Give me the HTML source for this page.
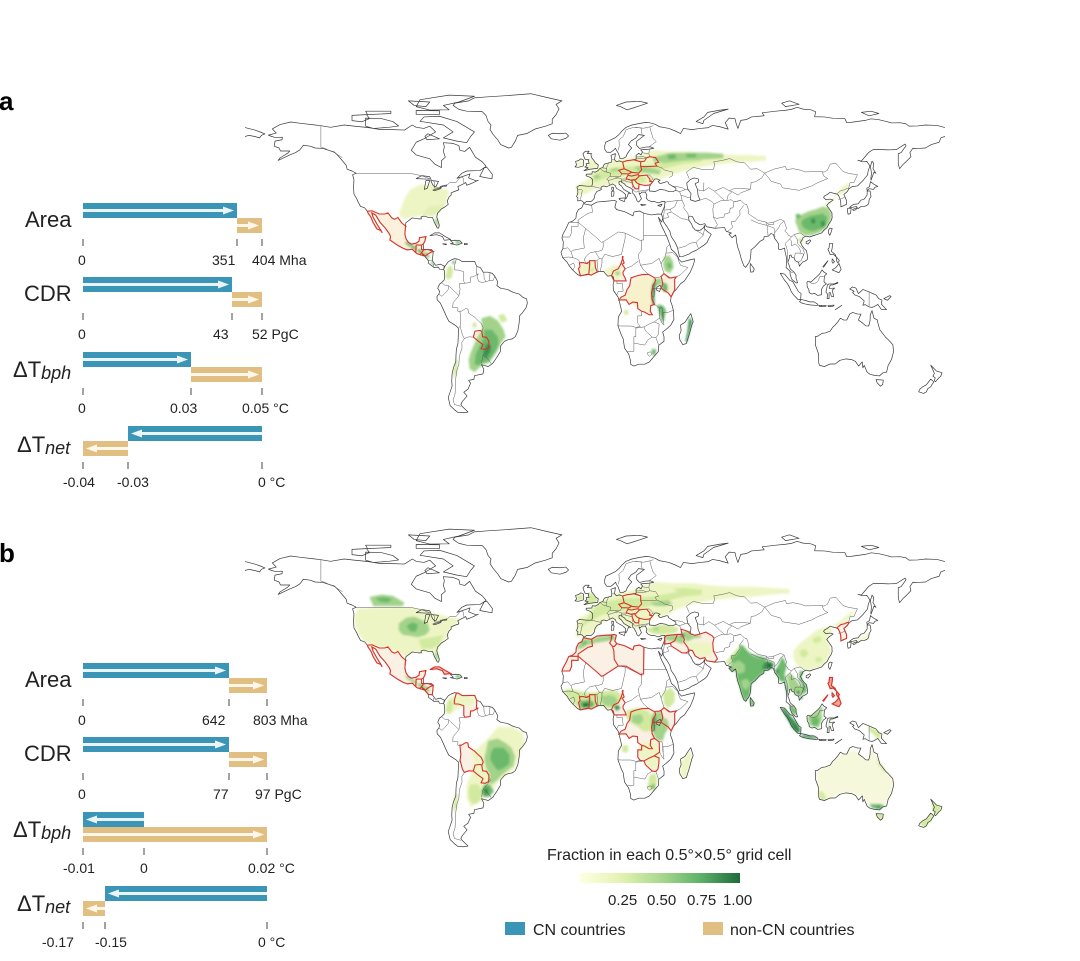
<!DOCTYPE html>
<html><head><meta charset="utf-8"><style>
html,body{margin:0;padding:0;background:#fff;}
svg{display:block;font-family:"Liberation Sans",Arial,sans-serif;}
</style></head><body>
<svg width="1080" height="961" viewBox="0 0 1080 961" xmlns="http://www.w3.org/2000/svg">
<defs>
<linearGradient id="cb" x1="0" x2="1" y1="0" y2="0">
<stop offset="0" stop-color="#ffffe2"/><stop offset="0.25" stop-color="#e4f3b3"/><stop offset="0.5" stop-color="#abd98f"/><stop offset="0.75" stop-color="#5db26a"/><stop offset="1" stop-color="#1d6b3b"/>
</linearGradient>
<filter id="bl" x="-10%" y="-10%" width="120%" height="120%"><feGaussianBlur stdDeviation="0.5"/></filter>
<g id="coast" fill="none" stroke="#3a3a3a" stroke-width="0.7" stroke-linejoin="round">
<path vector-effect="non-scaling-stroke" d="M-168,65.6 -164,66.5 -166,68.3 -162,70.2 -156.5,71.3 -152,70.8 -145,70.1 -141,69.7 -136,69 -129,70 -124,69.5 -117,68.9 -110,68 -104,68 -98,67.8 -94,70 -92,69 -88,68.5 -85,69.5 -82,67 -86,65 -88,64 -92,62.5 -94.5,59 -92,57 -88,56 -85,55.3 -82.3,52.9 -79,51.5 -79,54.5 -77,56 -78,58.5 -77.5,60.5 -78,62.3 -73,62 -70,61 -69.5,59 -67,58.5 -64.5,60.3 -61.5,56 -58,54 -56,52 -59,50.3 -60,50.2 -66,50 -68.5,49 -71,46.8 -65,48.5 -64.3,48.8 -65,47 -61,45.7 -60,46 -63.5,44.6 -66,43.8 -66.5,45 -67,44.7 -70.6,43.2 -70,41.8 -72,41.2 -74,40.5 -74,39.5 -75,38.8 -76,37 -75.5,35.5 -77,34.5 -79,33.5 -81,31.7 -81.4,30 -80.1,26.5 -80.4,25.2 -81.1,25.2 -82.7,27.8 -83.6,29.8 -85.3,29.7 -88,30.4 -89.5,30 -89.3,29.2 -91,29.2 -94,29.6 -97.3,27.5 -97.5,25.5 -97.8,22.5 -97.2,20.5 -96,19 -94.5,18.2 -92,18.6 -90.5,19.5 -90.3,21 -87,21.5 -87.5,19.5 -88.3,18.2 -88.2,16 -86,15.9 -84,15.8 -83.2,15 -83.5,12.5 -83.7,11 -82,9 -79.5,9.5 -77.5,8.6 -77.9,7.2 -80,7.3 -80.5,8.2 -82.9,8.1 -85.7,9.9 -85.8,11.1 -87.6,13 -89.8,13.5 -91.5,14 -92.2,14.5 -94,16 -96.5,15.7 -98.5,16.3 -101.5,17.7 -105.5,20 -105.2,21.5 -105.8,22.7 -108,25.3 -110.5,27.6 -112.8,30.8 -114.8,31.8 -114.2,30 -112.2,27 -110,24 -109.5,23.2 -110.3,24.2 -112.2,24.8 -114.2,27.7 -115.2,29.8 -116.8,31.8 -117.2,32.6 -118.5,34 -120.6,34.6 -121.9,36.6 -122.5,37.8 -124,40 -124.2,43 -124,46.2 -124.7,48.4 -122.8,49 -125,50 -127.5,50.8 -128,52.5 -130,54.5 -132,56.5 -134,58.2 -137,59 -140,59.8 -144,60 -146.5,60.8 -150,61.2 -151.8,59.2 -154,58 -157,57 -160,55.8 -163,54.6 -162,55.7 -158,57.8 -157,58.7 -161.8,58.7 -162.5,60 -165,60.8 -164.6,63 -161,63.6 -160.8,64.7 -164.5,64.6 -166.3,65 -168,65.6Z
M-73,78.5 -70,76.8 -66,76 -58,75.8 -56,74 -55,71.5 -53.5,70 -54,68 -52.5,66 -50,63.5 -48.5,61.5 -44.5,60 -43,60.3 -41,63 -39.8,65.5 -35,66.3 -31,68.2 -25.5,69.5 -22,70.5 -22,72.5 -20,74.5 -18.5,77 -20,79 -17,80.5 -25,82 -33,83.6 -45,82.8 -56,82.2 -62,81.8 -65,80.5 -72,79.5Z
M-80,73.8 -71,71.5 -67,69.5 -62,67 -64,65 -66,62.3 -71,63 -78,64.4 -73,67 -78,70 -90,71.6 -88,73.5Z
M-118,73 -110,72.8 -104,71.5 -101,69.6 -106,69 -114,68.5 -118,69.5 -118,71.2Z
M-125,74.2 -117.5,74.5 -116,72.8 -120,71.4 -125,71.9Z
M-92,78 -90,81 -75,83 -62,82.5 -70,80 -78,78.5 -75,76.6 -85,76.5Z
M-92,76.3 -80,76.2 -80,74.6 -92,74.6Z
M-118,76 -105,76 -105,75 -117,74.5Z
M-96,80.5 -85,80 -87,78 -93,78.5Z
M-86,66.2 -80,64 -86.5,63.6 -87.5,65Z
M-59.3,47.6 -53,46.6 -52.8,48.5 -55.5,51.5 -57,51.4Z
M-84.9,21.9 -82.5,23.1 -80,23.1 -77.2,21.6 -74.2,20.2 -77.5,19.9 -78.5,21.5 -81.5,22.3Z
M-74.4,19.8 -72,19.9 -69.5,19.7 -68.3,18.6 -71,17.8 -74.4,18.4 -72.8,18.6Z
M-78.3,18.4 -76.3,18.2 -76.7,17.9 -78.3,18.3Z
M-67.2,18.5 -65.6,18.4 -65.8,18 -67.2,18Z
M-92,46.7 -89,48 -85,47.5 -84.5,46.5 -87,46.5Z M-87.8,42 -87,45.8 -85,45.8 -86.3,42.5Z M-84.5,45.9 -80.5,45.5 -81.7,43.4 -82.4,43 -83.5,44Z M-83.4,41.7 -79,42.8 -79.5,42.3 -82.5,41.4Z M-79.7,43.3 -76.2,43.9 -76.4,43.4Z
M-77.2,8.6 -75.5,10.5 -74,11.3 -72.2,11.9 -70.2,11.6 -68.3,10.6 -66,10.6 -64,10.7 -61.9,10.7 -60.8,8.5 -59,8 -57.5,6 -55,6 -52.8,5.5 -51.5,4.2 -50,1.8 -50.5,0.2 -48.5,-1 -45,-1.5 -42,-2.8 -39,-3.5 -37,-5 -35.2,-5.5 -34.8,-7.5 -35.5,-9.5 -37.2,-11.5 -38.8,-13 -39,-16 -39.7,-19.5 -41,-22 -42.5,-23 -44.5,-23.3 -46.5,-24 -48.5,-26 -48.7,-28.5 -50.5,-31 -52.5,-33.5 -53.5,-34.2 -54.9,-35 -56.8,-34.6 -58.4,-34.2 -57.2,-36.2 -57.6,-38.2 -62,-39 -62.3,-40.6 -65,-41 -64,-42.3 -65.3,-44.8 -67.5,-46.2 -65.8,-47.8 -68.3,-50.3 -69,-51.5 -68.4,-52.3 -65.3,-54.8 -67.5,-55.1 -70.5,-55 -72,-54 -74.5,-52 -75.5,-48.5 -74.5,-46 -73.5,-43.5 -73.7,-41.5 -73.5,-38 -72.8,-35.5 -71.6,-33 -71.5,-30 -71.3,-27.5 -70.5,-25 -70.3,-21 -70.3,-18.4 -71.5,-17.3 -75.2,-15.3 -76.3,-13.5 -77.6,-11 -79.5,-7.5 -81.2,-6 -81.3,-4.5 -80.3,-3.5 -79.9,-2.3 -80.9,-1 -80,0.8 -78.9,1.5 -77.6,2.6 -77.3,4 -77.4,6.5 -77.9,7.2Z
M-5.9,35.8 -2,35.1 1,36.5 5,36.8 10,37.2 11,36.8 10.2,34.3 11.2,33.2 15.2,32.3 19.5,30.5 20.1,32.2 23,32.6 25.2,31.6 29,30.9 32.3,31.3 34.2,31.2 34.9,29.5 34.3,27.8 32.6,29.9 33.9,26.7 35.5,24 37.2,21 38.5,18 39.3,15.9 41.2,14.5 42.8,12.5 43.2,11.5 44.6,10.4 48,11.2 51.2,11.8 51,10.4 50.5,9 49,6 47.8,4.5 46,2.2 44,1 41.6,-1.7 40.2,-2.8 39.2,-4.7 38.8,-6.5 39.5,-8 40.3,-10.5 40.6,-14.5 39,-17 36.5,-18.9 34.8,-20 35.5,-22.1 35.5,-24 32.8,-25.8 32.6,-28.5 31,-30 28,-33 25.6,-34 22.5,-34 20,-34.8 18.4,-34.1 18.3,-32.5 17.3,-29.5 16.5,-28.6 15.2,-27 14.5,-23 13.4,-21 11.8,-17.3 12,-13.5 13.7,-11 13.2,-9 12.3,-6.1 12,-5 9.5,-2 9.3,0.5 9.8,2.5 9.5,3.9 8.5,4.5 6.5,4.3 5.5,5.2 4.5,6.3 2,6.3 0,5.6 -2,4.7 -4,5.2 -7.5,4.4 -9,5 -11.4,6.9 -13.2,8.7 -14.5,10.5 -16.7,12.4 -17.5,14.7 -16.5,16.2 -16.3,19.2 -17,21 -16.5,22.5 -14.9,25 -13.5,27.6 -11.5,28.2 -9.8,29.5 -9.6,31.5 -8.5,33.3 -6.8,34Z
M49.3,-12 50.5,-15.5 49.8,-17 48.5,-21 47,-25 45.2,-25.5 43.7,-23.5 43.3,-21.5 44.3,-19.5 44,-17 46.3,-15.8 48,-13.5Z
M31.8,-0.5 33.5,0.3 34,-0.5 33.2,-2.4 31.7,-1.8Z
M-5.6,36 -6.4,36.8 -7.4,37.2 -8.9,37 -8.8,38.4 -9.5,38.8 -8.8,40.5 -8.9,42 -9.3,43 -8,43.7 -4,43.4 -1.7,43.4 -1.2,44.7 -1.2,46.2 -2.3,47.2 -4.6,47.9 -4.5,48.6 -1.6,48.7 -1.4,49.7 0.1,49.5 1.6,50.2 2.5,51.1 4,51.5 4.8,53 7,53.5 8.6,53.9 8.6,55.5 8.2,56.8 10.5,57.6 10.3,56.3 10,55 11,54 12.5,54.4 14.2,53.9 16.5,54.5 18.6,54.7 19.9,54.9 21.2,55.2 21.1,56.8 22.5,57.7 23.7,57 24.4,58.3 23.5,59.2 28,59.5 30.2,59.9 28.5,60.5 26,60.4 22.9,59.8 21.4,61.2 21.5,63 24.5,64.9 25.4,65.5 22.3,65.8 21,64.3 18.5,63 17.2,61.5 18.9,60 18,59.2 16.6,57.5 15.9,56.1 14.3,55.4 12.9,55.4 12.6,56.3 11.8,58 11,59 10.6,59.9 9.5,59 8,58.1 6,58.2 5,59.5 5,61 5.5,62.5 8,63.5 10.5,64.5 12.5,66 14,67.5 16,69 19,70 23,70.7 26,71.1 28,71 31,70.3 33,69.3 38,68.5 41,67.5 44,66.3 45.5,68.5 50,68 54,68.5 58,68.8 60.5,69.8 64,69.3 68.5,68.2 67,71 69,73 72,72.8 72.5,71 73.5,68.5 75,72 78,72.4 80.5,73.5 87,74 86,75.3 93,76 98,76.4 101,76.8 104,77.7 107,76.9 111,76.6 113.5,75.8 113,73.6 118,73.5 122.5,72.9 128.5,72.8 129.5,71 132,71.2 139,72 142,72.7 146,72.3 150,71.5 152.5,70.9 157,71 160,70.5 161.5,69.5 166,69.6 170,70 176,69.8 180,68.9 M180,65 178,64.5 177,62.5 173,61.5 170,60 166,59.8 163.5,59.9 162,58 162.5,56.2 160,54 158.5,52.9 156.7,51 156,53 156,57.5 157.5,58 160,61 159.5,61.7 155,59.3 151,59.2 148,59.3 143,59.3 140.7,58 137,54.3 135.2,54.7 137.5,54 139.8,54.2 141.4,52.2 140.5,50 140.2,48.3 138,46 135,43.5 132.3,43.2 130.7,42.3 129.7,41 128,39.8 129.4,37.2 129.4,35.5 126.5,34.4 126.4,36.7 126.1,37.7 125.2,39.5 124.3,40 122,40.5 121,40.8 119.5,39.8 118,39.1 117.6,38.5 118.8,37.5 120.8,37.8 122.5,37.4 120.2,36 119.2,35 120.5,33.5 121.9,31.7 121.9,30.9 122,29.8 121.5,28.5 120.2,26.8 119.4,25.4 118.1,24.5 116.5,23 114,22.3 112,21.8 110.4,21.3 108.5,21.7 107,21 106.5,20 105.7,19 106.5,17.5 107.7,16.2 108.8,15.3 109.3,13 109.2,11.5 108,10.8 106.8,10.4 105.1,8.6 104.8,10.2 104.4,10.4 103,11 102.5,12.1 101,12.7 100.9,13.5 100,13.3 100,12.2 99.2,10.4 99.8,9.2 100.4,7.5 101.3,6.8 102.2,6.2 103.4,4.8 103.4,3.5 104.2,1.4 103.5,1.3 101.3,2.9 100.4,4.9 100.3,6.5 98.3,8 98.5,10 98.6,12 97.8,14.8 97.5,16.5 95.4,15.8 94.3,16.1 94.5,18.2 93.5,19.5 92.4,20.7 91.8,22.4 90.5,22.8 89.2,21.7 87,21.5 86.8,20.3 85,19.5 82.2,17 80.3,15.7 80.1,13.3 79.8,11.5 79.3,10.3 77.5,8.1 76.5,8.9 75.3,11.6 74.4,14.5 73.4,16.9 72.8,19.2 72.6,21.3 72.3,22.2 70.5,21 68.9,22.5 70.2,23 67.5,23.8 66.6,25.4 64.5,25.3 61.5,25.1 58.5,25.6 57.3,25.8 56.5,27.1 54,26.6 51.5,27.9 50.1,30.2 48.8,30.4 48,29.9 48.4,28.5 49.7,26.9 50.2,25.7 51.6,24.3 54,24.2 55.8,25.3 56.4,26.3 56.4,24.9 57.8,23.7 59.8,22.5 58.5,20.5 57.7,19 56.5,18 55.2,17.3 52.2,15.6 49.5,14.6 48.7,14 45,12.8 43.5,12.7 42.7,15.5 42.5,16.5 41.2,19 39.2,21.5 38.5,23.8 37.2,25.6 35.2,28 34.9,29.5 34.2,31.3 34.9,32.8 35.5,34 35.9,35.5 36,36.8 34.7,36.8 32.5,36.1 30.6,36.7 29,36.7 27.3,37.3 26.3,38.3 26.7,39.5 26.2,40.3 26,40.8 24,40.8 23.5,40.2 22.6,40.5 23.9,38 22.5,36.5 21.7,36.9 21.1,38.3 20.2,39.7 19.4,40.4 19.4,41.8 18.5,42.5 16,43.5 15,44.5 13.7,45.1 13.5,45.7 12.3,45.3 12.4,44.2 13.6,43.5 14.8,42 16,41.4 18.5,40.2 17.2,40.4 16.6,38.9 16,38 15.6,38.2 15.8,39.7 14.7,40.6 13.5,41.3 12.2,41.9 11,42.5 10.5,43.6 9,44.4 7.5,43.8 6,43.1 4.5,43.5 3.1,43 3.2,41.9 1,41.1 0,39.8 -0.3,38.4 -0.8,37.6 -2.1,36.7 -4.4,36.7 -5.6,36
M-180,68.9 -175,67.8 -172,66.9 -169.8,66.1 -171.6,65.5 -172.5,64.4 -175,65 -178,65.5 -180,65
M28,41.3 31,41.1 33.5,42 36,41.7 38,41 40,41 41.6,41.6 41.6,42.6 39.9,43.4 38,44.4 37.5,45.3 36.5,45.3 35.5,45 33.5,44.5 32.5,45.4 33.5,46 31.7,46.6 30.7,46.5 29.7,45.3 28.7,44.3 28,43Z
M47.2,44.8 49.2,46.4 51.2,47 53.2,46.5 53.2,45.2 51.5,44.5 52.7,42 53,39.5 54,37.4 51.5,36.8 49,37.5 49.4,40.2 47.8,42 47.4,43.5Z
M-5.7,50.1 -3,50.7 1.4,51.2 1.7,52.7 0.2,53.5 -0.5,54.5 -1.6,55.6 -2.1,57 -1.8,57.6 -4,57.6 -3,58.6 -5,58.6 -6.2,57.5 -5.6,56 -5,55 -3.1,54.9 -3.5,54.4 -3,53.3 -4.6,53.2 -4.2,52.3 -5.2,51.7 -3.5,51.4Z
M-6,52.2 -6,53.9 -5.8,54.7 -7.3,55.3 -8.5,54.5 -10,54.2 -9.5,52.6 -10.3,51.8 -8.5,51.6Z
M-22.5,64 -24,65.5 -22,66.4 -18,66.2 -15,66.5 -13.6,65.2 -14.8,64.3 -18,63.4Z
M11,78.5 16,80 23,80.3 27,79.5 20,77.5 16.5,76.6 13,78Z
M52,71.5 56,73.5 58,75.5 64,76.4 68.5,76.9 61,75 56,72 55.5,70.6Z
M96,79.5 100,80.5 105,79 98,78Z M137,75.5 142,76 146,75 141,74Z
M142,46 143.5,49.5 144.5,49 143,51 143.4,53.3 142.5,54.3 141.7,52 142.2,49 141.9,46.6Z
M130.9,34 131.5,34.6 133,35.5 135.3,35.7 136.8,37.3 138.5,37.8 140,39.6 140,41.3 141.5,41.3 142,39 141,37.5 140.8,35.8 139.8,35 138.5,34.6 137,34.6 135.2,33.6 134.5,34.6 132.5,34.2Z
M140,41.5 139.8,42.5 141.2,43.2 141.7,45.4 143.5,44.2 145.5,43.3 144,42.9 143.3,42 141,42.3Z
M130,33.8 131.8,33.8 131.4,31.5 130.2,31.2 129.8,32.7Z M132.5,33.3 134.7,34 134.2,33.2 133,32.8Z
M121,25.2 122,25 121.5,23.5 120.8,22 120.1,23 120.2,24.5Z
M108.6,19.2 110.5,20.1 111,19.6 109.6,18.2 108.6,18.5Z
M79.9,9.8 81,8.5 81.9,7.4 81.5,6.2 80.1,6 79.8,7.8Z
M120.6,18.5 122.2,18.5 122,16.5 121.6,15 123.5,13.8 124.1,12.6 122.5,13.9 121,13.6 120.6,14.5 119.8,16 120.4,16.5Z
M122,7 123.6,7.8 124.8,8.9 125.5,9.8 126.6,7.2 125.5,5.8 124.2,6.2Z
M124.3,12.5 125.7,11.1 125,10 124.3,10.9Z M122,11.8 123.2,10.6 122.4,9.9 121.9,10.6Z M117.2,8.4 119.8,11 119.5,10.5 117.6,8.2Z
M109,1.6 109.6,2.1 111,1.7 113,3.2 115.3,5 116.8,7 117.7,6.1 119.2,5.3 118,4.3 117.8,1.8 119,0.9 117.5,0 116.5,-1.5 116.5,-3.8 114.5,-4.1 113,-3.2 111.6,-3.5 110.2,-2.9 110,-1.5 109.2,-0.5Z
M95.3,5.5 97.5,5.2 100.4,2.3 101.7,2 103.7,-1 104.7,-2.5 106,-3.2 105.8,-5.8 104.5,-5.9 102.3,-4 101,-2.5 100,-0.5 99,1 97.5,2.5Z
M105.2,-6.8 106.1,-5.9 108.3,-6.3 110.5,-6.9 112.6,-6.9 114.4,-7.8 114.4,-8.5 110.5,-8.2 108,-7.8 106.4,-7.4Z
M115,-8.3 116.5,-8.8 115.5,-8.9Z M116.3,-8.4 119,-8.6 118.5,-9 116.5,-8.9Z M119.8,-8.5 123,-8.3 122.5,-8.8 120,-8.9Z M123.6,-10.3 127,-8.4 125,-9.5Z
M119.4,-5.5 119.6,-3.5 118.8,-2.7 119.6,0.5 120.3,0.9 123,0.9 124.8,1.6 125,1.3 122.5,0.5 121,0.4 120.5,-1 121.6,-1 123.3,-0.9 122,-1.8 122.8,-4.6 121.6,-4.5 121,-2.8 120.4,-3 120.4,-5.5Z
M131,-1.3 132.5,-0.4 134.2,-0.9 135.5,-3.3 137.8,-1.5 141,-2.6 144.5,-3.9 146,-5.5 147.6,-6.1 147.3,-7.9 150,-10.3 147.2,-10.1 145.5,-8 143.5,-9 142.5,-9.3 141,-9.1 139,-8.1 137.8,-8.4 138.5,-6.5 136,-4.6 133.6,-3.9 132.5,-2.8 133.3,-2.3Z
M148.5,-5.5 151.5,-4.2 152.3,-4.5 150.5,-6.2Z
M113.3,-22 113.5,-26 115,-29.5 115.1,-33.5 115.5,-34.5 118,-35 121,-33.9 123.6,-33.9 126,-32.3 129,-31.7 132,-32 134,-32.8 135.6,-34.8 137.5,-33 137.8,-35.6 138.5,-34.5 140,-37.5 141.5,-38.4 143.5,-38.8 146.3,-39.1 148,-37.8 150,-37.4 150.8,-34.5 152.5,-32 153.6,-28.5 153.2,-25.5 151,-23.5 149.5,-22.3 146.5,-19 145.5,-16 145.3,-14.8 143.5,-14 142.5,-10.7 141.6,-12.5 141.5,-15 140.8,-17.4 139.2,-17.3 137.5,-16 135.5,-14.8 136.8,-12.2 135,-12.2 132.6,-11.5 131,-12.2 129.5,-14.8 128,-14.8 126.2,-14 125,-15.5 123.5,-17 122.2,-18 121,-19.6 118.5,-20.4 116.7,-20.6 114.7,-21.8Z
M144.6,-40.7 148.3,-40.9 148,-42.8 146.9,-43.6 145.2,-42.2Z
M172.7,-34.4 174.5,-36 175.7,-37 178.5,-37.7 177.9,-39.2 176.8,-40 175.2,-41.6 174.6,-41.2 175,-39.9 173.8,-39.2 174.6,-38 173.2,-35.3Z
M172.7,-40.5 174.3,-41.7 173.2,-43 172.7,-43.8 171.2,-44.6 170.5,-46 169,-46.7 166.5,-46 167,-45 168.3,-44 170.5,-42.9 171.5,-41.8Z
M12.4,38.1 15.6,38.3 15.1,36.7 12.5,37.6Z M8.4,41 9.8,41 9.6,39.1 8.4,39Z M8.6,43 9.5,42.9 9.4,41.4 8.7,41.7Z M23.5,35.5 26.3,35.3 24,35Z M32.3,35 34.5,35.6 33.8,34.6Z"/>
<path vector-effect="non-scaling-stroke" stroke="#5a5a5a" stroke-width="0.5" d="M-123,49 -95,49 -89.5,48 -84.5,46.5 -82.4,45 -82.5,42.5 -79,43 -76,44 -74.7,45 -71.5,45 -70,46.5 -69,47.4 -67.8,47 -67.8,45.2 -67,44.7
M-141,69.7 -141,60.3 -139,59.9 -137,59 -134,58 -130,55.8
M-117.1,32.5 -114.7,32.7 -111,31.3 -108.2,31.3 -106.5,31.8 -104.5,29.6 -103,29 -101.4,29.8 -99.5,27.5 -97.2,25.9
M-92.2,14.5 -92,17.8 -89.2,17.8 -88.3,18.5 M-89.2,17.8 -89.2,15.9 -88.2,15.7 M-88.2,15.7 -89.3,14.4 -90.1,13.7 M-89.3,14.4 -87.8,13.4 M-87.3,12.9 -86,13.9 -84.5,14.6 -83.2,15 M-85.7,11.1 -83.7,10.9 M-83,8.3 -82.9,9.6
M-71.3,11.8 -72.4,8.5 -72.3,7 -70,6.9 -67.5,6.2 -67.5,2 -66.9,1.2 -64.2,1.5 -64,3.9 -62.7,4 -60,5.2 -61,5.2 -60.8,8.5
M-60,5.2 -60.7,4 -59.8,2 -58,1.5 -56,1.9 -54.5,2.3 -52.5,2.3 -51.5,4.2 M-57.2,5.9 -57,3 -56,1.9 M-54,5.7 -54.3,3 -54.5,2.3
M-66.9,1.2 -69.9,1 -69.4,-1.2 -70,-4.2 M-78.9,1.5 -77.4,0.4 -75.3,0.1 -70,-4.2 M-80.3,-3.5 -78.7,-4.5 -77,-3 -75.5,-1.5 -75.3,0.1
M-70,-4.2 -73,-7.3 -73.2,-9.4 -70.5,-9.5 -70.6,-11 -69.5,-10.9
M-69.5,-10.9 -68.8,-11 -66.5,-9.8 -65.4,-10 -65,-11.8 -62,-13.5 -60.2,-15 -58.5,-16.3 -57.5,-18.2 -58.2,-19.8
M-69.5,-10.9 -69,-15 -69.4,-17.5 -70.3,-18.4 M-69.4,-17.5 -68.2,-21.3 -67.2,-22.8 M-67.2,-22.8 -65,-22.1 -62.6,-22.2
M-62.6,-22.2 -61.7,-19.6 -59,-19.3 -58.2,-19.8 -57.8,-22.1 -55.8,-22.3 -54.6,-24 -54.6,-25.5 -54.8,-26.8 -56.5,-27.5 -58.6,-27.3 -57.6,-25.5 -60,-24 -62.6,-22.2
M-54.6,-25.5 -53.7,-26.2 -57.6,-30.2 -56,-30.8 -53.4,-33.7 M-57.6,-30.2 -58.4,-33.5
M-67.2,-22.8 -68.5,-24.5 -68.4,-27 -69.8,-30.5 -70,-34 -71,-36.5 -71.6,-40 -71.8,-44 -72,-47 -73,-49.5 -72.3,-51.5 -69,-52.3
M-1.7,35.1 -1.3,32.1 -3.6,31.6 -8.7,28.7 -8.7,27.7 -13.2,27.7 M-8.7,27.7 -8.7,25.9 -12,26 -12,23.4 -13,21.3 -17,21.3
M-8.7,27.7 -4.8,25 1.2,20.7 3.3,19 4.2,19.2 12,23.5 M-4.8,25 -6,21 -5.5,16.5 -11.5,15.5 -12.2,14.7 -14,16.6 -16.5,16.2
M-12.2,14.7 -11.4,12.4 -13.7,12.6 -16.7,12.4 M-11.4,12.4 -8.5,11.4 -7.9,10.2 M-13.2,9 -11,10 -10.3,8.5 -11.4,6.9 M-8.5,7.6 -7.5,4.4
M-7.5,4.4 -8.5,7.6 -7.7,8.4 -8,10.1 -6,10.2 -4.7,9.8 -2.7,9.5 -3.2,5.1
M-4.7,9.8 -5.5,11.5 -4.5,13 -2.5,14.5 0.2,14.9 1.2,13.4 2.3,12 1,11 0,11 -2.8,11 -2.7,9.5 M0,11 0.2,8 1.2,6.1 M1,11 1.6,6.2 M2.3,12 3.6,11.7 3.6,10 2.7,6.4
M4.2,19.2 4.2,16.9 3.6,15.5 1.2,15 0.2,14.9 M3.6,11.7 5,13.8 9,12.8 13.6,13.7 M12,23.5 15.5,23 15.5,20.7 13.6,13.7
M8.5,4.5 9.5,6.5 12,7.5 13.5,10 14.5,12.5 14,13 M14,13 15,10 14,9.5 15.5,7.5 18.5,8.5 22.4,10.9 M15.5,23 24,19.5 M24,19.5 24,15.7 22.5,14 22.4,12.5 23.4,9
M25,31.6 25,22 36.9,22 M25,22 25,20 24,20 24,19.5
M23.4,9 26.5,9.5 29,9.7 33,12 34,9.5 M36.5,14.3 36,12.5 34.5,10.5 34,9.5 M36.5,14.3 37,17 38.5,18 M36.5,14.3 40,14.5 42.5,12.5
M42.5,12.5 43,11 44,9 47.8,8 44,4.9 41.9,4 39,3.5 35.5,5.4 34.9,6.9 34,9.5 M27.5,5.1 25,7 23.4,9
M9.8,2.2 11.3,2.2 16,2.2 15.5,3.5 14.5,5 14.4,6 15.5,7.5 M11.3,2.2 11.3,1 14,1.3 14.5,-2.3 12,-2.3 11.2,-3.9
M41,-1.7 41,3 41.9,4 M34,4.2 34.9,1 34,-1 37.6,-3 39.2,-4.7 M30,-1 34,-1 M34,4.2 33,3.8 31.3,3.8 30.8,3.5
M29,-1.4 30.5,-1 30.8,-2.4 30.5,-4.5 29.2,-4.5 M40.4,-10.5 37.5,-11.5 35,-11.5 M33,-9.5 34.5,-9.5 35,-14 35.5,-17 34.8,-16.5 33.2,-14 M30.6,-8 33,-9.5
M12.3,-6.1 13.5,-4.8 15.5,-4 16.5,-1.5 17.8,0 18.5,3.5 21,4.3 24,4.9 27.5,5.1 30.8,3.5 31.2,2.3 29.7,0 29.6,-1.4 29.1,-2.8 29.2,-4.5 29.4,-6 30.6,-8 28.7,-8.5 28.4,-11 29.5,-12.5 27.8,-12.5 25.4,-11.3 24,-11 22,-9.8 21.8,-7.2 19.5,-7 17.5,-8 16,-6 12.3,-6.1
M11.8,-17.3 13.5,-17.4 18.5,-17.4 21,-18 23.3,-17.6 M24,-11 24,-13 22,-13 22,-16.2 23.3,-17.6
M16.5,-28.6 20,-28.4 20,-24.8 20,-22 21,-22 21,-18.3 M21,-18.3 25.2,-17.8 M20,-24.8 23,-25.3 25.6,-25.7 27,-23.6 29.4,-22.2
M25.2,-17.8 28,-16.5 30.4,-15.6 33,-16.5 32.8,-19 32.4,-21.3 31.3,-22.4 29.4,-22.2 26,-19.5 25.2,-17.8 M30.4,-15.6 33.2,-14 33,-9.5 M31.3,-22.4 32,-24 32.8,-25.8
M27,-29 28.5,-28.6 29.4,-29.5 28,-30.6 27,-29.7Z M35,-11.5 35,-14
M-1.7,43.4 3.1,42.4 M-8.9,42 -7,42 -6.5,41.6 -7,39.6 -7.5,37.5
M2.5,51.1 4.2,50 6,49.5 8.2,49 7.6,47.6 6,46.3 7,45.9 7,45.5 7.5,43.8 M4,51.3 6,51.2 M7,53.5 6.1,51.8 6,50.7 6.1,49.5 M8.6,54.9 10,54.8
M14.2,53.9 14.6,52.5 15,51 12.2,50.3 13.8,48.8 13,47.5 10,47.5 7.6,47.6
M19.9,54.9 23.5,54 23.5,52 24,50.5 22.5,49.1 19,49.4 17,50.2 15,51
M12.2,50.3 13.8,48.8 16.5,48.8 17,48.6 18.9,49.5 M17,48.6 17,48.1 18.8,47.8 22.1,48.4 22.5,49.1
M10,47.5 12.2,47 13.7,46.5 16.5,46.5 16.1,46.9 17,48.1 M7,45.9 9,46.4 10.5,46.8 12.2,47 M13.7,46.5 13.7,45.6 15.5,45.8 16.5,46.5
M16.5,46.5 18.8,45.9 20.3,46.2 21,46.3 22.9,47.9 22.1,48.4 M20.3,46.2 21.4,44.9 22.7,44.3 25.5,43.7 28,43.9 28.7,44.3 M22.9,47.9 26.6,48.2 28.2,46.5 28.2,45.5 29.7,45.3
M15.5,45.5 19,45 19.4,44 19.4,42.5 M19,45.8 19,44.8 M22.7,44.3 22.6,42.3 M19.4,41.8 20.6,41.1 21,40.8 22.6,41.2 26.2,41.7 28,41.9 M22.6,41.2 22.6,42.3 M19.4,41.8 20.5,42.4 21,42.2 22.4,42.3
M21.2,55.2 26.5,55.7 28.2,56.2 27.7,57.5 28,59.5 M21.1,56.1 25,56.2 26.5,55.7 M24.3,57.9 27.4,57.6
M23.5,52 26,51.9 31.8,52.1 30.9,53.4 32.7,53.8 31.2,55.8 28.2,56.2 M31.8,52.1 34.4,51.3 35.8,50.4 38.2,49.9 40,49.5 39.7,47.9 38.2,47.1 M26.6,48.2 28,48.3 30,46.5 28.2,45.5
M12,59 12.5,61 12.3,63.5 14.5,65 16,68 20,69 M20,69 23.7,68.7 24.2,65.8 M20.5,69 25,68.6 28.2,69.2 30,69.7 M28.2,69.2 29,66.5 30,64 31.5,62.8 27.8,60.5
M39.9,43.4 42,43.2 44.8,42.8 46.5,41.9 48.6,41.8 M41.6,41.6 43.5,41 46.5,41.9 M44.2,39.5 46.5,38.9 48,38.4 48.9,38.4
M35.9,35.9 37,36.7 40,36.9 42.4,37.2 44.8,37.2 M44.8,37.2 44.2,39.5 43.5,41 41.6,41.6 M26,40.8 26.6,41.6 28,41.9
M44.8,37.2 46,35 45.6,34 47.8,31.5 48,30.5 48.4,29.9 M42.4,37.2 41,34.4 38.8,33.4 39.2,32.2 44.7,29.2 46.5,29.1 48.4,28.5 M38.8,33.4 36,33 M39.2,32.2 37,31.5 38,30 36.5,29.5 34.9,29.5 M34.9,29.5 35.5,31.5 35.6,33.2 36,34.6
M42.8,16.4 46.5,17.3 49,18.6 52,19 55.6,22 55.2,22.7 51.6,24.3 M52,19 53.1,16.6 M55.6,22 56.4,24.9
M53.9,37.3 57,38.2 60.3,36.6 61.2,35.6 60.6,33.5 60.9,29.9 61.7,28.8 63,26.6 61.6,25.2
M52.8,41.8 55.9,41.3 58.5,42.8 61.5,41.2 66,42.9 69,41.4 71,42.2 73.5,42.5 80,42.1 M55.9,41.3 56,45 M61.5,41.2 64.8,38.5 66.5,37.4
M61.2,35.6 64.8,37.1 67.8,37.2 70,37.5 71.5,36.6 74.9,37.2 M74.9,37.2 71.5,36.6 71,34 69.5,33.8 69.3,31.9 66.6,31.2 66.3,29.9 62.5,29.4 60.9,29.9
M67.8,37.2 68.5,39.5 70.5,41 73.6,39.5 M69,41.4 70.5,41 M73.6,39.5 75,40.5 80,42.1
M48.5,46.6 47,49.5 50.5,51.6 55.5,50.6 61,50.8 61.6,53 61,54 65.5,54.6 69.2,55.4 73,54 77,53.5 80,50.8 83.4,51 87.3,49.1
M87.3,49.1 85.8,47 82.5,45.3 80.3,45 80,42.1 M87.3,49.1 89,49.7 92,50.8 98,52 98.5,50.6 102,51 106,50.3 108,49.6 113,49.7 116.7,49.8
M87.3,49.1 90.7,45.5 95.5,44.3 96.4,42.7 105,41.6 111.5,43.5 114.5,44.9 119.7,46.7 117.8,47.7 116.7,49.8
M116.7,49.8 117.8,49.5 119.5,50.3 121,53 124,53.3 127.5,49.8 130.6,48.9 135,48.4 133.2,45 131.2,44.9 130.5,42.6 130.7,42.3
M124.3,40 126.5,41.5 128.2,41.8 129.7,42.4 130.7,42.3 M125.2,37.7 126.7,37.9 128.4,38.6
M68.2,23.7 70.8,25.5 70,27.9 72,28 74.6,31 74.5,32.8 76.5,35 M74.9,37.2 77,35.6 78,35.5 79,33 78.8,31.5 81,30.2 84,28.5 88,27.8 88.8,27.3 92,27.8 95.5,29 97.3,28.2
M80.1,28.8 84,27.3 88.1,26.4 88,27.8 M88.8,27.3 89,26.8 92,26.8 92,27.8
M88.1,26.4 89,26.2 88.5,25 88.8,24.2 89,22 M89,26.2 92,25.2 92.6,24 92.3,23 92.6,21.3 M92.3,23 93.3,24 94.6,25.5 95.3,26.8 97.3,28.2
M97.3,28.2 98.6,25 97.6,23.9 98.9,23 99.5,22 101.2,21.4 M101.2,21.4 102.4,22.4 105.5,23.1 108,21.6
M101.2,21.4 100.1,20.4 97.8,18.5 98.8,16 99.2,10.4 M100.1,20.4 101.2,19.4 101.1,17.5 103,18.2 104.7,17 105.6,15.5 105.5,14.3
M102.4,22.4 104,20.3 104.2,18.5 107,16 107.7,14.5 106.5,12 M102.6,12.2 103,14.3 105.5,14.3 107.5,13.8 106,11 104.5,10.4
M100.2,6.5 101.3,5.8 102.1,6.2 M109.6,2.1 111.5,1 114,1.4 115,2.5 115.5,4 117.7,4.2 M141,-2.6 141,-9.1"/>
</g>
<path id="cnA" vector-effect="non-scaling-stroke" d="M-117.1,32.5 -116.8,31.8 -115.2,29.8 -114.2,27.7 -112.2,24.8 -110.3,24.2 -109.5,23.2 -110,24 -112.2,27 -114.2,30 -114.8,31.8 -112.8,30.8 -110.5,27.6 -108,25.3 -105.8,22.7 -105.2,21.5 -105.5,20 -101.5,17.7 -98.5,16.3 -96.5,15.7 -94,16 -92.2,14.5 -92,17.8 -89.2,17.8 -88.3,18.2 -87.5,19.5 -87,21.5 -90.3,21 -90.5,19.5 -92,18.6 -94.5,18.2 -96,19 -97.2,20.5 -97.8,22.5 -97.5,25.5 -97.2,25.9 -99.5,27.5 -101.4,29.8 -103,29 -104.5,29.6 -106.5,31.8 -108.2,31.3 -111,31.3 -114.7,32.7Z
M-92.2,14.5 -92,17.8 -89.2,17.8 -89.2,15.9 -88.2,15.7 -89.3,14.4 -90.1,13.7 -91.5,14Z
M-89.3,14.4 -88.2,15.7 -86,15.9 -83.2,15 -84.5,14.6 -86,13.9 -87.3,12.9 -87.8,13.4Z
M-90.1,13.7 -89.3,14.4 -87.8,13.4 -89.8,13.5Z
M-62.6,-22.2 -61.7,-19.6 -59,-19.3 -58.2,-19.8 -57.8,-22.1 -55.8,-22.3 -54.6,-24 -54.6,-25.5 -54.8,-26.8 -56.5,-27.5 -58.6,-27.3 -57.6,-25.5 -60,-24Z
M-7.5,4.4 -3.2,5.1 -2.7,9.5 -2.8,10.5 -4.7,9.8 -6,10.2 -8,10.1 -7.7,8.4 -8.5,7.6Z
M-3.2,5.1 -2,4.7 0,5.6 1.2,6.1 0.2,8 0,11 -2.8,11 -2.7,9.5Z
M8.5,4.5 9.8,2.2 11.3,2.2 16,2.2 15.5,3.5 14.5,5 14.4,6 15.5,7.5 14,9.5 15,10 14,12.5 14.5,13 13.5,10 12,7.5 9.5,6.5Z
M12.3,-6.1 13.5,-4.8 15.5,-4 16.5,-1.5 17.8,0 18.5,3.5 21,4.3 24,4.9 27.5,5.1 30.8,3.5 31.2,2.3 29.7,0 29.6,-1.4 29.1,-2.8 29.2,-4.5 29.4,-6 30.6,-8 28.7,-8.5 28.4,-11 29.5,-12.5 27.8,-12.5 25.4,-11.3 24,-11 22,-9.8 21.8,-7.2 19.5,-7 17.5,-8 16,-6Z
M34,4.2 35.5,5.4 38,3.6 39,3.5 41.9,4 41,3 41,-1.7 39.2,-4.7 37.6,-3 34,-1 34.9,1Z
M14.2,53.9 16.5,54.5 18.6,54.7 19.9,54.9 23.5,54 23.5,52 24,50.5 22.5,49.1 19,49.4 17,50.2 15,51 14.6,52.5Z
M23.5,52 23.5,54 25.5,54.3 26.5,55.7 28.2,56.2 31.2,55.8 32.7,53.8 30.9,53.4 31.8,52.1 26,51.9Z
M12.2,50.3 15,51 16.5,50.4 18.9,49.5 17,48.6 16.5,48.8 13.8,48.8Z
M16.1,46.9 17,48.1 18.8,47.8 22.1,48.4 22.9,47.9 21,46.3 20.3,46.2 18.8,45.9 16.5,46.5Z
M22.9,47.9 26.6,48.2 28.2,46.5 28.2,45.5 29.7,45.3 28.7,44.3 28,43.9 25.5,43.7 22.7,44.3 21.4,44.9 20.3,46.2 21,46.3Z
M19,46.1 20.3,46.2 21.4,44.9 22.7,44.3 22.4,42.3 21,42.2 20,43 19.2,44.5Z"/>
<path id="cnB" vector-effect="non-scaling-stroke" d="M-117.1,32.5 -116.8,31.8 -115.2,29.8 -114.2,27.7 -112.2,24.8 -110.3,24.2 -109.5,23.2 -110,24 -112.2,27 -114.2,30 -114.8,31.8 -112.8,30.8 -110.5,27.6 -108,25.3 -105.8,22.7 -105.2,21.5 -105.5,20 -101.5,17.7 -98.5,16.3 -96.5,15.7 -94,16 -92.2,14.5 -92,17.8 -89.2,17.8 -88.3,18.2 -87.5,19.5 -87,21.5 -90.3,21 -90.5,19.5 -92,18.6 -94.5,18.2 -96,19 -97.2,20.5 -97.8,22.5 -97.5,25.5 -97.2,25.9 -99.5,27.5 -101.4,29.8 -103,29 -104.5,29.6 -106.5,31.8 -108.2,31.3 -111,31.3 -114.7,32.7Z
M-92.2,14.5 -92,17.8 -89.2,17.8 -89.2,15.9 -88.2,15.7 -89.3,14.4 -90.1,13.7 -91.5,14Z
M-89.3,14.4 -88.2,15.7 -86,15.9 -83.2,15 -84.5,14.6 -86,13.9 -87.3,12.9 -87.8,13.4Z
M-90.1,13.7 -89.3,14.4 -87.8,13.4 -89.8,13.5Z
M-87.3,12.9 -86,13.9 -84.5,14.6 -83.2,15 -83.5,12.5 -83.7,11 -85.7,11.1 -87.6,13Z
M-84.9,21.9 -82.5,23.1 -80,23.1 -77.2,21.6 -74.2,20.2 -77.5,19.9 -78.5,21.5 -81.5,22.3Z
M-71.3,11.8 -70.2,11.6 -68.3,10.6 -66,10.6 -64,10.7 -61.9,10.7 -60.8,8.5 -61,5.2 -60,5.2 -62.7,4 -64,3.9 -64.2,1.5 -66.9,1.2 -67.5,2 -67.5,6.2 -70,6.9 -72.3,7 -72.4,8.5Z
M-69.5,-10.9 -68.8,-11 -66.5,-9.8 -65.4,-10 -65,-11.8 -62,-13.5 -60.2,-15 -58.5,-16.3 -57.5,-18.2 -58.2,-19.8 -59,-19.3 -61.7,-19.6 -62.6,-22.2 -65,-22.1 -67.2,-22.8 -68.2,-21.3 -69.4,-17.5 -69,-15Z
M-62.6,-22.2 -61.7,-19.6 -59,-19.3 -58.2,-19.8 -57.8,-22.1 -55.8,-22.3 -54.6,-24 -54.6,-25.5 -54.8,-26.8 -56.5,-27.5 -58.6,-27.3 -57.6,-25.5 -60,-24Z
M-5.9,35.8 -2,35.1 -1.7,35.1 -1.3,32.1 -3.6,31.6 -8.7,28.7 -8.7,27.7 -13.2,27.7 -11.5,28.2 -9.8,29.5 -9.6,31.5 -8.5,33.3 -6.8,34Z
M-8.7,27.7 -13.2,27.7 -13.5,27.6 -14.9,25 -16.5,22.5 -17,21.3 -13,21.3 -12,23.4 -12,26 -8.7,25.9Z
M-1.7,35.1 1,36.5 5,36.8 8.6,36.9 8.3,34.6 7.5,33.5 9,32 9.7,30 9.9,26.4 12,23.5 4.2,19.2 3.3,19 1.2,20.7 -4.8,25 -8.7,27.7 -8.7,28.7 -3.6,31.6 -1.3,32.1Z
M8.6,36.9 10,37.2 11,36.8 10.2,34.3 11.2,33.2 10,32 9,32 7.5,33.5 8.3,34.6Z
M11.2,33.2 15.2,32.3 19.5,30.5 20.1,32.2 23,32.6 25.2,31.6 25,22 25,20 24,20 24,19.5 16,23.4 12,23.5 9.9,26.4 9.7,30 9,32 10,32Z
M-7.5,4.4 -3.2,5.1 -2.7,9.5 -2.8,10.5 -4.7,9.8 -6,10.2 -8,10.1 -7.7,8.4 -8.5,7.6Z
M-3.2,5.1 -2,4.7 0,5.6 1.2,6.1 0.2,8 0,11 -2.8,11 -2.7,9.5Z
M8.5,4.5 9.8,2.2 11.3,2.2 16,2.2 15.5,3.5 14.5,5 14.4,6 15.5,7.5 14,9.5 15,10 14,12.5 14.5,13 13.5,10 12,7.5 9.5,6.5Z
M12.3,-6.1 13.5,-4.8 15.5,-4 16.5,-1.5 17.8,0 18.5,3.5 21,4.3 24,4.9 27.5,5.1 30.8,3.5 31.2,2.3 29.7,0 29.6,-1.4 29.1,-2.8 29.2,-4.5 29.4,-6 30.6,-8 28.7,-8.5 28.4,-11 29.5,-12.5 27.8,-12.5 25.4,-11.3 24,-11 22,-9.8 21.8,-7.2 19.5,-7 17.5,-8 16,-6Z
M30,-1 33.9,-1 34.9,1 34,4.2 33,3.8 31.3,3.8 30.8,3.5 31.2,2.3 29.7,0Z
M34,4.2 35.5,5.4 38,3.6 39,3.5 41.9,4 41,3 41,-1.7 39.2,-4.7 37.6,-3 34,-1 34.9,1Z
M22,-13 24,-13 24,-11 25.4,-11.3 27.8,-12.5 29.5,-12.5 28.4,-11 28.7,-8.5 30.6,-8 33,-9.5 33.2,-14 30.4,-15.6 28,-16.5 25.2,-17.8 23.3,-17.6 22,-16.2Z
M25.2,-17.8 28,-16.5 30.4,-15.6 33,-16.5 32.8,-19 32.4,-21.3 31.3,-22.4 29.4,-22.2 26,-19.5Z
M35.7,35.9 36.8,36.7 42.4,37.2 41,34.4 38.8,33.4 36,33 35.9,35.1Z
M42.4,37.2 44.8,37.2 46,35 45.6,34 47.8,31.5 48,30.5 48.4,29.9 46.5,29.1 44.7,29.2 39.2,32.2 38.8,33.4 41,34.4Z
M44.8,37.2 44.2,39.5 46.5,38.9 48,38.4 49,37.5 51.5,36.8 54,37.4 57,38.2 60.3,36.6 61.2,35.6 60.6,33.5 60.9,29.9 61.7,28.8 63,26.6 61.6,25.2 58.5,25.6 57.3,25.8 56.5,27.1 54,26.6 51.5,27.9 50.1,30.2 48.8,30.4 48,30.5 47.8,31.5 45.6,34 46,35Z
M124.3,40 126.5,41.5 128.2,41.8 129.7,42.4 130.7,42.3 129.7,41 128,39.8 129.4,37.2 129.4,35.5 126.5,34.4 126.4,36.7 126.1,37.7 125.2,39.5Z
M14.2,53.9 16.5,54.5 18.6,54.7 19.9,54.9 23.5,54 23.5,52 24,50.5 22.5,49.1 19,49.4 17,50.2 15,51 14.6,52.5Z
M12.2,50.3 15,51 16.5,50.4 18.9,49.5 17,48.6 16.5,48.8 13.8,48.8Z
M16.1,46.9 17,48.1 18.8,47.8 22.1,48.4 22.9,47.9 21,46.3 20.3,46.2 18.8,45.9 16.5,46.5Z
M22.9,47.9 26.6,48.2 28.2,46.5 28.2,45.5 29.7,45.3 28.7,44.3 28,43.9 25.5,43.7 22.7,44.3 21.4,44.9 20.3,46.2 21,46.3Z
M19,46.1 20.3,46.2 21.4,44.9 22.7,44.3 22.4,42.3 21,42.2 20,43 19.2,44.5Z"/>
<path id="phl" vector-effect="non-scaling-stroke" d="M120.6,18.5 122.2,18.5 122,16.5 121.6,15 123.5,13.8 124.1,12.6 122.5,13.9 121,13.6 120.6,14.5 119.8,16 120.4,16.5Z M122,7 123.6,7.8 124.8,8.9 125.5,9.8 126.6,7.2 125.5,5.8 124.2,6.2Z M124.3,12.5 125.7,11.1 125,10 124.3,10.9Z M122,11.8 123.2,10.6 122.4,9.9 121.9,10.6Z M117.2,8.4 119.8,11 119.5,10.5 117.6,8.2Z"/>
</defs>

<rect width="1080" height="961" fill="#fff"/>

<!-- ===== Panel a map ===== -->
<g transform="matrix(1.944 0 0 -2.3 595 286)">
<use href="#cnA" fill="#fbf1dc" stroke="none"/>
<g filter="url(#bl)" stroke="none">
<path fill="#eef5c4" d="M-101,31 -98,38 -95,42 -90,44 -84,44 -80,43 -75,41.5 -76,38 -78,34.5 -81,31 -84,30.2 -89,30.5 -94,30 -98,29Z"/>
<path fill="#e3f0b5" d="M-89,31 -85,35 -81,35 -78,36 -76,37 -78,34 -81,31.5 -84,30.3Z"/>
<path fill="#a3d38a" d="M-82.2,29.5 -81,29 -80.4,26.5 -80.8,25.4 -81.6,26.5 -82.5,28Z"/>
<path fill="#6cb96c" d="M-97.5,19.5 -96,18.8 -94.5,18 -92.5,17.2 -91.5,16.5 -92.5,15.5 -94,16.5 -96,17.5 -97.5,18.5Z"/>
<path fill="#a3d38a" d="M-91.5,16 -89,16 -88,15 -86,14.5 -85,13 -85.5,11.5 -87,12.5 -89,14 -91,14.5Z"/>
<path fill="#3b9450" d="M-91,15.8 -89.5,15.5 -89.8,14.8 -91,15Z"/>
<path fill="#6cb96c" d="M-84,10.5 -82.5,9.5 -83.5,9 -84.5,9.8Z M-71.5,19.6 -69.5,19.4 -68.7,18.6 -70.5,18.3 -71.7,18.5Z"/>
<path fill="#d2ea9f" d="M-76,8 -74,9 -73,7 -73.5,4 -75.5,2.5 -77,4 -76.5,6Z"/>
<path fill="#3b9450" d="M-73.5,9.5 -72,10 -72.3,11 -73,10.8Z"/>
<path fill="#a3d38a" d="M-58.5,-14 -54,-13 -50,-15 -47,-19 -46,-22 -48.5,-25 -50,-28 -52.5,-31 -54.5,-33.5 -57.5,-34 -59.5,-35.5 -62,-37.5 -64.5,-36 -65,-32 -64,-29 -63,-27 -61.5,-24 -60,-21.5 -58,-18.5Z"/>
<path fill="#6cb96c" d="M-57,-19 -53,-19 -50,-22 -49.5,-25 -51,-28 -53,-31 -55.5,-33 -58,-33.5 -60,-34.5 -62,-34 -61.5,-30 -60,-27 -58,-24 -57,-21.5Z"/>
<path fill="#3b9450" d="M-56,-25 -54,-25.5 -53.5,-28 -55,-30.5 -57,-31.5 -57.5,-28.5 -56.5,-27Z"/>
<path fill="#d2ea9f" d="M-50,-13 -47,-12 -45,-15 -48,-16Z M-71.5,-32 -70.5,-32.5 -71,-38 -72.5,-40 -73,-38Z M-63,-16 -61,-16 -61,-18 -63,-18Z"/>
<path fill="#eef5c4" d="M-10,43 -9,44 -2,47 -4,48.5 1,50.5 4,52 8,54 12,55 18,55.5 24,57 30,59 40,58.5 50,58.5 60,57.5 70,57 80,57 88,56.5 88,54.5 80,54 70,53.5 60,52.5 50,51 42,49 35,47 30,46 25,44.5 20,44 15,44.5 10,44.5 5,43.5 0,42 -5,40 -9,39Z M-5,50.2 1.4,51.3 1.3,52.8 -1,54.5 -3,55.8 -3.5,53 -4.5,51.8Z M-9.8,52 -6.2,52.5 -6,54 -8.5,54.6Z"/>
<path fill="#d2ea9f" d="M-2,47 1,49.5 4,50.5 9,51 14,52 20,52 26,52.5 32,53 38,54 45,55.5 55,56.5 55,54 45,53 38,51.5 32,50 26,49 20,48.5 14,48 8,47.5 3,46 0,45Z M17,47.5 22,48 26,47.5 26,45 22,45 18,46Z"/>
<path fill="#a3d38a" d="M30,56 38,57.8 48,58 58,58 66,57.5 66,55.5 56,55 46,54.5 36,53.5 30,54Z M-1,48 2,48.5 3,47 0,46.5Z M8,51 12,51.5 12,50 8,49.8Z M20,52 26,52 30,51 34,50 33,48.5 27,49 22,50Z"/>
<path fill="#6cb96c" d="M37,57 41,57.5 42,55.5 38,55Z M47,57.5 52,57.5 52,56 47,56Z"/>
<path fill="#a3d38a" d="M103.5,30 106,31 110,32.5 114,33.5 117,34.5 120,34 121.5,31.5 121.5,29 120,26.5 118,24.5 115,23 111,22 108,22 105,23.5 104,26 103,28Z"/>
<path fill="#6cb96c" d="M107,29 111,30.5 114,31 117,31.5 119.5,30 119,27 116.5,25 113,24 110,24 107,25.5 106,27.5Z M103,31 105,31.5 106,30 104,29Z"/>
<path fill="#3b9450" d="M111,29 113,29.5 113.5,27.5 111.5,27Z M116,28 118,28.5 118.5,26 116.5,25.5Z"/>
<path fill="#eef5c4" d="M118,36 122,37.5 126,42 130,45 131,43 128,40.5 124,39 120,35Z"/>
<path fill="#d2ea9f" d="M104,20.5 106.5,21 107,19 105.5,18.5Z"/>
<path fill="#eef5c4" d="M-8.5,7.5 -3,10.5 0,11 1,8 -1,5.5 -4,5.5 -7.5,5Z M5,7 9,9 12,9 14,6 12,3 9,4 6,5Z"/>
<path fill="#d2ea9f" d="M-3,7 -1,8 0,7 -1.5,6Z"/>
<path fill="#a3d38a" d="M10,6 12.5,6.5 13,5 11,4.5Z"/>
<path fill="#f7f2cc" d="M14,-5 18,-2 20,2 24,4 28,4 30,1 29.5,-4 29,-8 27,-11 23,-10 18,-7 14,-6Z"/>
<path fill="#a3d38a" d="M35.5,12.5 38,13.5 40,11 40.5,8 38.5,5.5 36,6.5 35,9Z M30,3 34,3.5 34.5,1 32,0 30,0.5Z"/>
<path fill="#6cb96c" d="M37,10 39,10 39.5,8 37.5,7.5Z M34.5,1.5 37,1 37.5,-1.5 36,-3 34.5,-1.5Z M32,-8 35,-8.5 36.5,-10.5 35.5,-15 34.5,-16 33.5,-13 32.5,-10Z M29,-27.5 31.5,-27.5 31,-30 29.5,-30Z"/>
<path fill="#3b9450" d="M29.5,1 31.5,1.5 31,-1 30.5,-4 30.7,-8 29.5,-8.5 29,-5 29,-2Z M48.5,-13.5 50,-15.5 49.2,-18 48.2,-21.5 47.3,-24.5 46.5,-24 47.5,-20 48,-16.5Z"/>
<path fill="#d2ea9f" d="M15,-10.5 17,-10.5 17,-12.5 15,-12.5Z"/>
</g>
<use href="#coast"/>
<use href="#cnA" fill="none" stroke="#d8342a" stroke-width="1.1"/>
</g>

<!-- ===== Panel b map ===== -->
<g transform="matrix(1.944 0 0 -2.3 595 720)">
<use href="#cnB" fill="#fbf0e4" stroke="none"/>
<g filter="url(#bl)" stroke="none">
<path fill="#eef5c4" d="M-122,48.5 -95,49 -85,47 -76,45 -70,44 -72,41 -75,39 -76,36 -79,33 -81,30.5 -80.5,26 -82,28 -85,30 -90,29.5 -94,29.5 -97,27 -100,29 -104,30 -107,31.5 -111,31.5 -115,32.5 -118,34 -121,36.5 -123,40 -124,44Z"/>
<path fill="#a3d38a" d="M-101,42 -97,44.5 -93,45 -89,43.5 -86,42 -85,39 -87,37 -91,36 -95,36.5 -99,37 -101,39Z M-116,53.5 -110,54.5 -104,54 -98,51 -99,49.5 -110,49.5 -114,49.5Z M-82.2,29.5 -81,29 -80.4,26.5 -80.8,25.4 -81.6,26.5 -82.5,28Z"/>
<path fill="#6cb96c" d="M-97,41 -94,42.5 -91,41.5 -92,38.5 -95,38.5Z M-113,53 -108,53.5 -104,52.5 -107,51 -111,51.5Z"/>
<path fill="#d2ea9f" d="M-91,35 -84,36 -78,37 -80,33 -84,31 -89,31Z"/>
<path fill="#a3d38a" d="M-97.5,19.5 -96,18.8 -94.5,18 -92.5,17.2 -91.5,16.5 -92.5,15.5 -94,16.5 -96,17.5 -97.5,18.5Z M-91.5,16 -89,16 -88,15 -86,14.5 -85,13 -85.5,11.5 -87,12.5 -89,14 -91,14.5Z"/>
<path fill="#6cb96c" d="M-90,15.2 -88.5,15 -88.8,14.3 -90,14.5Z M-71.5,19.6 -69.5,19.4 -68.7,18.6 -70.5,18.3 -71.7,18.5Z"/>
<path fill="#f2b7a6" d="M-84.9,21.9 -82.5,23.1 -80,23.1 -77.2,21.6 -74.2,20.2 -77.5,19.9 -78.5,21.5 -81.5,22.3Z"/>
<path fill="#eef5c4" d="M-75,10 -70,11 -63,10 -61,8 -64,6 -68,6 -72,4 -75,2 -77,5Z M-50,-3 -42,-3 -37,-6 -36,-10 -39,-15 -41,-21 -46,-24 -50,-27 -53,-32 -57,-34 -60,-36 -64,-38 -66,-34 -66,-28 -64,-24 -62,-18 -64,-14 -60,-12 -55,-8 -52,-5Z"/>
<path fill="#a3d38a" d="M-55,-9 -50,-8 -46,-10 -43,-12 -41,-16 -42,-20 -45,-22 -48,-24 -50,-26 -53,-28 -55,-27 -54,-24 -56,-21 -57,-17 -56,-13Z M-62.5,-30 -60.5,-30.5 -60.5,-33 -62.5,-33Z"/>
<path fill="#6cb96c" d="M-52,-12 -47,-12 -44,-15 -44,-19 -47,-21 -50,-22 -52,-20 -54,-17 -53.5,-14Z M-57,-28 -54,-28 -52,-31 -54.5,-33.5 -57.5,-33.5 -58.5,-31Z"/>
<path fill="#3b9450" d="M-57,-29.5 -55,-29.5 -54.8,-32 -57,-32.5Z"/>
<path fill="#d2ea9f" d="M-64,-28 -60,-28 -58.5,-31 -58.5,-34 -60,-36 -63,-36.5 -65,-34 -65,-30Z M-71.5,-32 -70.5,-32.5 -71,-38 -72.5,-40 -73,-38Z M-76,8 -74,9 -73,7 -73.5,4 -75.5,2.5 -77,4 -76.5,6Z"/>
<path fill="#eef5c4" d="M-10,36 -9,44 -2,47 -4,48.5 1,50.5 4,52 8,54 12,55.5 18,56 24,58 30,60 40,59.5 50,59.5 60,58.5 70,58 80,58 90,57.5 100,57 100,55 90,54.5 80,53.5 70,53 60,52 50,50.5 42,48 38,46 34,45 30,45.5 28,42 26,41 22,39 20,40 16,41 14,43 10,44 6,43.5 3,42 0,39 -2,37 -6,36.5Z"/>
<path fill="#d2ea9f" d="M-2,47 1,49.5 4,51 9,52 14,53 20,53 26,53.5 32,54 38,55 45,56 55,57 55,54.5 45,53.5 38,52 32,50.5 26,49 20,48 14,47.5 8,47 3,45.5 0,44 -4,42 -7,40 -8,42 -4,44Z M-5,50.2 1.4,51.3 1.3,52.8 -1,54.5 -3,55.8 -3.5,53 -4.5,51.8Z M-9.8,52 -6.2,52.5 -6,54 -8.5,54.6Z M40,57 46,57.5 52,57 52,55.5 44,55Z M27,40 31,41 35,41.5 40,41 43,40 42,38 38,37.5 34,37 30,37.5 27,38.5Z"/>
<path fill="#a3d38a" d="M28,51 33,51.5 38,52 40,50.5 36,49.5 31,49.5Z M30,40 33,40.5 33,39 30,39Z M-9.5,31 -8,33.5 -5.5,35.5 -2,35 1,36 5,36.6 9.5,37 10.5,35 8,34.5 4,34 0,33.5 -4,32.5 -7,31Z M36,36.5 40,37 44,37 46,35 45,33 42,34 38,34.5 36,35Z M45,38.5 48,38.5 50,37 54,37 55,36 51,35.5 47,34 46,36Z"/>
<path fill="#6cb96c" d="M-7,33 -5,34.5 -4,33.5 -6,32.5Z M7,36.5 9.5,36.8 10,35.5 8,35.5Z"/>
<path fill="#3b9450" d="M44,37.5 46,37.5 46,36 44,36Z"/>
<path fill="#eef5c4" d="M46,34 50,34 56,34 60,33 61,30 58,27 53,28 50,30 48,31.5Z"/>
<path fill="#d2ea9f" d="M-16.5,13 -12,13.5 -8,12.5 -4,12 0,12 4,12.5 8,13 12,12.5 14,10 12,7 9,5 6,5 3,6.5 0,5.8 -3,5 -7.5,4.6 -11,7 -14,10Z M16,4 20,5 24,5 27,4 29,2 30,-1 29,-5 25,-5 22,-3 18,-1 16,1Z M35,12 39,14 41,12 41,8 38,5 35.5,6.5Z M28,-24 31,-23 32,-26 31,-30 29,-31 27,-29Z M14,-11 17,-11 17,-14 14,-14Z"/>
<path fill="#6cb96c" d="M-8,8.5 -5,8.5 -3,9 -1,8 0,6.5 -2,5.2 -4,5.3 -7,5 -8,6.5Z M34,1 35.5,0.5 35.5,-1.5 34,-1Z M29,-28 31,-28 30.5,-30 29.5,-30Z"/>
<path fill="#1d6b36" d="M-6.5,7 -4,7.5 -2.5,6.5 -4.5,5.7 -6,5.8Z"/>
<path fill="#a3d38a" d="M3,10 7,11 10,10.5 12,8 10,6 7,6 4,7Z M19,2 24,2.5 25,0 23,-2 19,-1Z M29.5,3 34,4 35,1 37,0.5 38,-2 37.5,-4 36,-6 35,-9 33,-9 31,-8 29.5,-5 29,-1Z"/>
<path fill="#3b9450" d="M9.5,6 12,6.5 13,5 11,4Z M29.5,1 31.5,1.5 31,-2 30.5,-5 29.5,-5Z"/>
<path fill="#eef5c4" d="M24,-10 30,-9 33,-11 33,-17 32,-21 28,-21 26,-18 23,-16 22,-12Z M48.5,-13.5 50,-15.5 49.2,-18 48.2,-21.5 47.3,-24.5 45,-25 44,-22 44.5,-18 46.5,-16Z"/>
<path fill="#d2ea9f" d="M67,25 70,28 72,30 74,32 74.5,31 72.5,28 70.5,25.5 68.5,24Z"/>
<path fill="#6cb96c" d="M68.9,22.5 70.5,21 72.6,21.3 72.8,19.2 73.4,16.9 74.4,14.5 75.3,11.6 76.5,8.9 77.5,8.1 79.3,10.3 79.8,11.5 80.1,13.3 80.3,15.7 82.2,17 85,19.5 86.8,20.3 87,21.5 89.2,21.7 88.5,24 88,26.5 84,27.3 80.1,28.8 78,30.5 76,32.5 74.5,32.8 74.6,31 72,28 70,27.9 70.8,25.5Z M79.9,9.8 81,8.5 81.9,7.4 81.5,6.2 80.1,6 79.8,7.8Z M80.5,28.8 84,28 88,27 88,26.5 84,27 80.5,28.3Z"/>
<path fill="#a3d38a" d="M70,24 74,26 77,24 77,21 74,20 71,22Z M75,17 78,18 80,16 78,13 76,14Z"/>
<path fill="#3b9450" d="M86,22 88,22 89.5,22 91.5,22.5 92,24.5 90,25.5 88,25.5 86.5,24Z"/>
<path fill="#1d6b36" d="M88.5,23 90.5,23 90.5,24.5 88.7,24.5Z"/>
<path fill="#6cb96c" d="M92.5,21 94,19 95,17 97.5,16.5 98,14 98.6,11 99.5,13 98.5,16 97.5,20 98.5,23 97.5,26 96,27.5 95,25 94,23.5Z M105.5,21.5 107.5,21 106,19 107,16.5 108.8,15 109,12.5 107,11 106,12.5 106.5,15 105,17.5 105,20Z M100.5,6.5 102,6 103.4,4.5 103.5,2 101.5,2.8 100.3,5Z"/>
<path fill="#a3d38a" d="M98.5,19.5 101,20 103,18 104.5,16 106.5,14 107,12 106,10.5 104.5,10.5 103,11.5 101,12.8 100,13.5 99.5,15Z M109.5,1.5 111,2 113,3 115,4.5 116.5,6 117.5,5 116.5,3 117,1 116,-1.5 115,-3.5 113,-3 110.5,-2.5 110,-1 109.3,0.5Z M119.5,-4 120.5,-1 121,1 123,0.8 121,0 120.5,-3Z"/>
<path fill="#3b9450" d="M93,22 94.5,22 94.5,20 93,20.5Z M105.5,10 106.5,10.5 107,9.5 105.5,9Z M103.5,12.5 105,13 105.5,11.5 104,11Z M95.5,5.3 97.5,5 100.3,2 103.5,-1 105.5,-3.5 105.5,-5.5 104,-5.5 101.5,-3.5 99.5,-0.5 97.5,2.5Z M105.5,-6.5 108,-6.5 111,-7 114,-7.5 114.2,-8.3 110.5,-8 107,-7.5Z"/>
<path fill="#6cb96c" d="M111,0.5 114,1.5 115.5,0 114.5,-2.5 112,-2.5Z"/>
<path fill="#1d6b36" d="M96,4.5 98,3 100,0 102,-3 104.5,-5.5 104,-4 101.5,-2 99.5,0.5 97.5,3Z"/>
<path fill="#d2ea9f" d="M141,-3 144,-4 147,-6 147,-8 145,-8 143,-6 141,-5Z"/>
<path fill="#eef5c4" d="M102,30 105,33 108,35 111,37 114,39 117,40 119,40.5 122,40.5 122,38 120,36.5 119.5,34.5 121,32 121.5,29.5 120,26.5 117,23.5 114,22.5 110,21.5 107,22 105,23 103,25 102,27Z M122,41 126,43 130,46 132,47 134,47.5 131,44 128,42 125,40.5Z M131,33.5 134,34.5 136,35.5 139,36.5 140.5,38.5 141,37 140,35.5 137,34.5 134,33.8Z"/>
<path fill="#d2ea9f" d="M105,30 108,31 110,29 108,27 106,27.5Z M112,35.5 115,36.5 117,35 115,33.5 112.5,33.5Z M113,27 116,27.5 117,25.5 114,25Z"/>
<path fill="#f6f8dc" d="M114,-26 115,-30 115.5,-34 118,-35 122,-34 124,-33 126,-32 129,-31.5 133,-32 135,-33 137.5,-33.5 139,-35 141,-37.5 145,-38.5 148,-37.5 150.5,-35 152.5,-32 153.5,-28 153,-25 150,-22 147,-19.5 145.5,-16 143.5,-14.5 142,-12 141,-17 138,-17 136,-14.5 133,-13 130,-14 128,-15 125,-16 122,-18.5 118,-20.5 114.5,-22Z"/>
<path fill="#d2ea9f" d="M115,-31 115.5,-34 118,-35 119,-33.5 117,-31Z M145,-16 146.5,-19 148.5,-20.5 150,-23 148,-22 145.5,-19Z M144.6,-40.7 148.3,-40.9 148,-42.8 146.9,-43.6 145.2,-42.2Z M172.7,-34.4 175.7,-37 178.5,-37.7 176.8,-40 175.2,-41.6 173.8,-39.2 173.2,-35.3Z M172.7,-40.5 174.3,-41.7 172.7,-43.8 170.5,-46 169,-46.7 167,-45 170.5,-42.9Z"/>
<path fill="#6cb96c" d="M141.5,-37.5 143.5,-38.5 146.3,-39 148,-37.8 149.5,-37.5 147,-36.5 144,-36.5 141.5,-36.5Z"/>
<path fill="#3b9450" d="M145,-38 146.5,-38.5 146.5,-37.5 145,-37.3Z"/>
</g>
<use href="#phl" fill="#eea593" stroke="none"/>
<use href="#coast"/>
<use href="#cnB" fill="none" stroke="#d8342a" stroke-width="1.1"/>
<use href="#phl" fill="none" stroke="#d8342a" stroke-width="1.1"/>
</g>

<!-- ===== Panel labels ===== -->
<text x="-1" y="110" font-size="26" font-weight="bold" fill="#000">a</text>
<text x="-1" y="562" font-size="26" font-weight="bold" fill="#000">b</text>

<!-- ===== Bars panel a ===== -->
<g fill="#222" font-size="22">
<text x="25" y="227">Area</text>
<text x="24" y="301">CDR</text>
<text x="13" y="377">ΔT<tspan font-style="italic" font-size="18" dy="2">bph</tspan></text>
<text x="17" y="452">ΔT<tspan font-style="italic" font-size="18" dy="2">net</tspan></text>
<text x="25" y="687">Area</text>
<text x="24" y="761">CDR</text>
<text x="13" y="837">ΔT<tspan font-style="italic" font-size="18" dy="2">bph</tspan></text>
<text x="17" y="911">ΔT<tspan font-style="italic" font-size="18" dy="2">net</tspan></text>
</g>
<g>
<rect x="83" y="203" width="154" height="15" fill="#3a95b7"/><rect x="83" y="209" width="140" height="3" fill="#eaf5f8"/><polygon points="223,206.5 234,210.5 223,214.5" fill="#eaf5f8"/>
<rect x="237" y="218" width="25" height="15" fill="#e1bf82"/><rect x="237" y="224" width="11" height="3" fill="#fff7ea"/><polygon points="248,221.5 259,225.5 248,229.5" fill="#fff7ea"/>
<rect x="83" y="277" width="149" height="15" fill="#3a95b7"/><rect x="83" y="283" width="135" height="3" fill="#eaf5f8"/><polygon points="218,280.5 229,284.5 218,288.5" fill="#eaf5f8"/>
<rect x="232" y="292" width="30" height="15" fill="#e1bf82"/><rect x="232" y="298" width="16" height="3" fill="#fff7ea"/><polygon points="248,295.5 259,299.5 248,303.5" fill="#fff7ea"/>
<rect x="83" y="352" width="108" height="15" fill="#3a95b7"/><rect x="83" y="358" width="94" height="3" fill="#eaf5f8"/><polygon points="177,355.5 188,359.5 177,363.5" fill="#eaf5f8"/>
<rect x="191" y="367" width="71" height="15" fill="#e1bf82"/><rect x="191" y="373" width="57" height="3" fill="#fff7ea"/><polygon points="248,370.5 259,374.5 248,378.5" fill="#fff7ea"/>
<rect x="128" y="426" width="134" height="15" fill="#3a95b7"/><rect x="142" y="432" width="120" height="3" fill="#eaf5f8"/><polygon points="142,429.5 131,433.5 142,437.5" fill="#eaf5f8"/>
<rect x="83" y="441" width="45" height="15" fill="#e1bf82"/><rect x="97" y="447" width="31" height="3" fill="#fff7ea"/><polygon points="97,444.5 86,448.5 97,452.5" fill="#fff7ea"/>

<rect x="83" y="663" width="146" height="15" fill="#3a95b7"/><rect x="83" y="669" width="132" height="3" fill="#eaf5f8"/><polygon points="215,666.5 226,670.5 215,674.5" fill="#eaf5f8"/>
<rect x="229" y="678" width="38" height="15" fill="#e1bf82"/><rect x="229" y="684" width="24" height="3" fill="#fff7ea"/><polygon points="253,681.5 264,685.5 253,689.5" fill="#fff7ea"/>
<rect x="83" y="737" width="146" height="15" fill="#3a95b7"/><rect x="83" y="743" width="132" height="3" fill="#eaf5f8"/><polygon points="215,740.5 226,744.5 215,748.5" fill="#eaf5f8"/>
<rect x="229" y="752" width="38" height="15" fill="#e1bf82"/><rect x="229" y="758" width="24" height="3" fill="#fff7ea"/><polygon points="253,755.5 264,759.5 253,763.5" fill="#fff7ea"/>
<rect x="83" y="812" width="61" height="15" fill="#3a95b7"/><rect x="97" y="818" width="47" height="3" fill="#eaf5f8"/><polygon points="97,815.5 86,819.5 97,823.5" fill="#eaf5f8"/>
<rect x="83" y="827" width="184" height="15" fill="#e1bf82"/><rect x="83" y="833" width="170" height="3" fill="#fff7ea"/><polygon points="253,830.5 264,834.5 253,838.5" fill="#fff7ea"/>
<rect x="105" y="886" width="162" height="15" fill="#3a95b7"/><rect x="119" y="892" width="148" height="3" fill="#eaf5f8"/><polygon points="119,889.5 108,893.5 119,897.5" fill="#eaf5f8"/>
<rect x="83" y="901" width="22" height="15" fill="#e1bf82"/><rect x="97" y="907" width="8" height="3" fill="#fff7ea"/><polygon points="97,904.5 86,908.5 97,912.5" fill="#fff7ea"/>
</g>
<g stroke="#444" stroke-width="1">
<path d="M83,239V246M237,239V246M262,239V246 M83,313V320M232,313V320M262,313V320 M83,388V395M191,388V395M262,388V395 M83,462V469M128,462V469M262,462V469"/>
<path d="M83,699V706M229,699V706M267,699V706 M83,773V780M229,773V780M267,773V780 M83,848V855M144,848V855M267,848V855 M83,922V929M105,922V929M267,922V929"/>
</g>
<g fill="#222" font-size="14">
<text x="78" y="265">0</text><text x="212" y="265">351</text><text x="252" y="265">404 Mha</text>
<text x="78" y="339">0</text><text x="213" y="339">43</text><text x="252" y="339">52 PgC</text>
<text x="78" y="413">0</text><text x="170" y="413">0.03</text><text x="242" y="413">0.05 °C</text>
<text x="63" y="487">-0.04</text><text x="117" y="487">-0.03</text><text x="258" y="487">0 °C</text>
<text x="78" y="725">0</text><text x="202" y="725">642</text><text x="253" y="725">803 Mha</text>
<text x="78" y="799">0</text><text x="213" y="799">77</text><text x="255" y="799">97 PgC</text>
<text x="63" y="873">-0.01</text><text x="140" y="873">0</text><text x="248" y="873">0.02 °C</text>
<text x="42" y="947">-0.17</text><text x="95" y="947">-0.15</text><text x="258" y="947">0 °C</text>
</g>

<!-- ===== Legend ===== -->
<text x="547" y="860" font-size="16" fill="#222">Fraction in each 0.5°×0.5° grid cell</text>
<rect x="580" y="873" width="160" height="10" fill="url(#cb)"/>
<g font-size="15" fill="#222">
<text x="608" y="905">0.25</text><text x="647" y="905">0.50</text><text x="687" y="905">0.75</text><text x="723" y="905">1.00</text>
</g>
<rect x="505" y="922" width="20" height="13" fill="#3a95b7"/>
<text x="533" y="935" font-size="16" fill="#222">CN countries</text>
<rect x="703" y="922" width="20" height="13" fill="#e1bf82"/>
<text x="730" y="935" font-size="16" fill="#222">non-CN countries</text>
</svg>
</body></html>
